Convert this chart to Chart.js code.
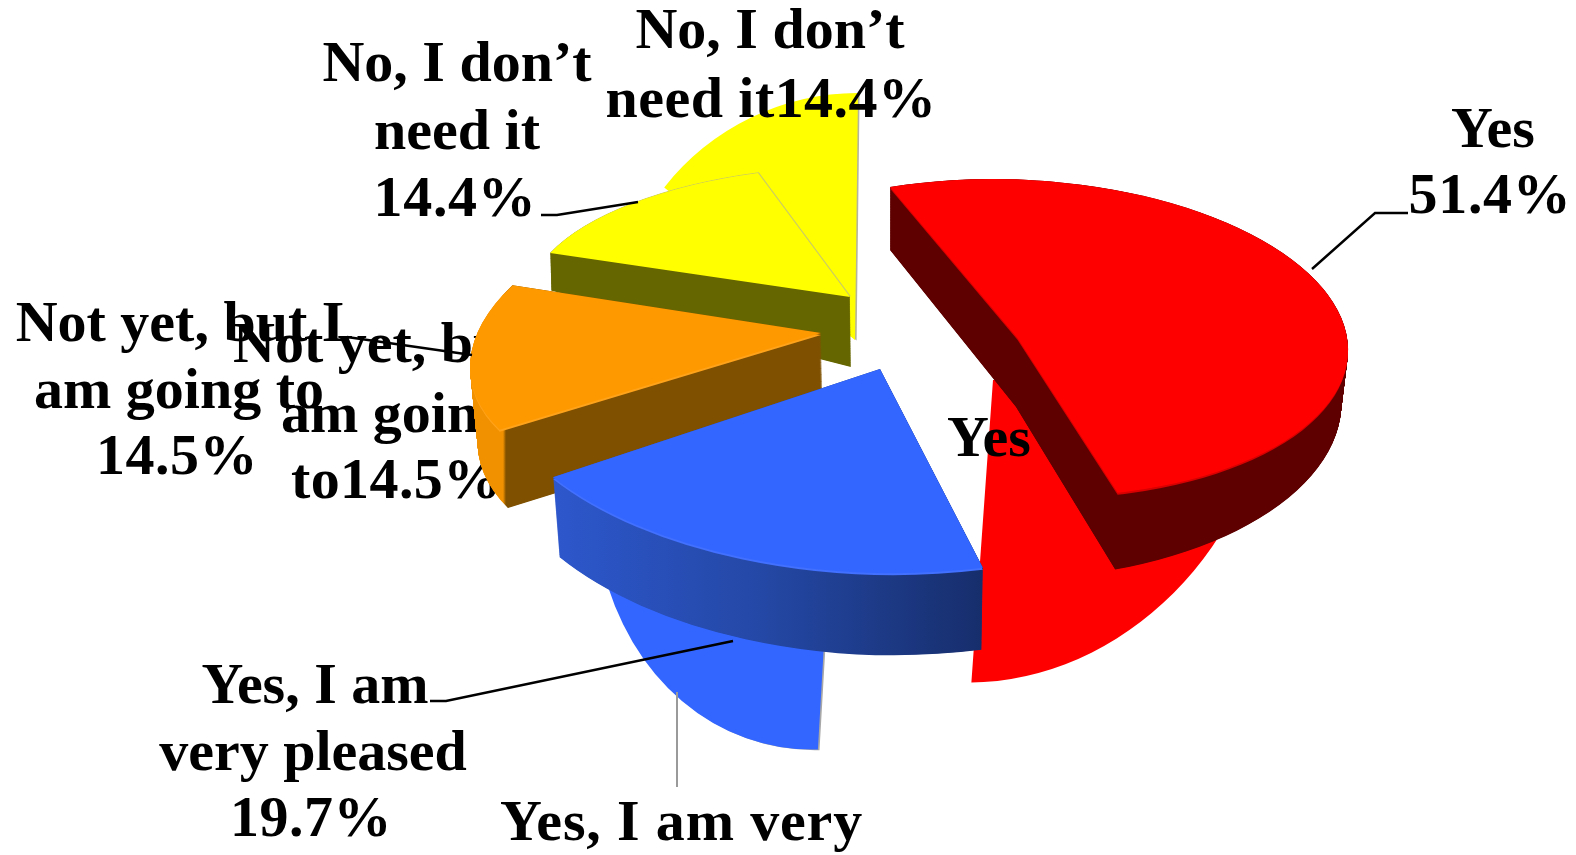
<!DOCTYPE html>
<html><head><meta charset="utf-8">
<script src="https://cdn.jsdelivr.net/npm/chart.js@4/dist/chart.umd.min.js"></script>
<style>
html,body{margin:0;padding:0;background:#fff;overflow:hidden}
#wrap{width:1576px;height:855px}
canvas{display:block;filter:blur(0.55px)}
</style></head><body>
<div id="wrap"><canvas id="c" width="1576" height="855"></canvas></div>
<script>
// ---- data ----
const categories = ['Yes', 'Yes, I am very pleased', 'Not yet, but I am going to', 'No, I don\u2019t need it'];
const shares = [51.4, 19.7, 14.5, 14.4];
const pct = shares.map(v => v.toFixed(1) + '%');

// ---- styles ----
const faceColors = ['#ff0000', '#3366ff', '#ff9900', '#ffff00'];
const bevelColors = ['#d80000', '#4270ff', '#ffa31a', null];
const edgeColors = [null, null, null, '#c9c96a'];
// side gradient stops: [screen x, colour]
const sideStops = [
  [[0, '#5f0000'], [1576, '#5f0000']],
  [[553, '#2d57cc'], [760, '#2448a6'], [983, '#172e6c']],
  [[503, '#f29100'], [506, '#7f5000'], [1576, '#7f5000']],
  [[0, '#666600'], [1576, '#666600']]
];
// projection of the unit pie onto the page, per slice: [a, b, c, d, e, f]
const topViews = [
  [305, -50, 127.5, 151, 1017.5, 338],
  [371, -63, 136, 194, 880, 369],
  [346, -61, 59, 155, 821, 333],
  [309, -41.5, 92, 124, 850, 297]
];
const bottomViews = [
  [300, -70, 126, 157, 1016, 407],
  [364, -64, 134, 198, 880, 447],
  [340, -61, 61, 160, 823, 410],
  [309, 0, 92, 124, 851, 367]
];
const backViews = [
  [280, -30, 3, 301, 993, 380],
  [240, -30, 5, 278, 834, 470],
  null,
  [245, 0, -3, 247, 855, 340]
];
const backClipTop = [380, 0, 0, 0];
const backEdge = [null, '#a8a8a8', null, '#b4b49c'];

const labelFont = 'bold 58px "Liberation Serif"';
// text, x, baseline, align, letter spacing
const backLabels = [
  ['No, I don\u2019t', 770, 48, 'center', 0],
  ['need it' + pct[3], 771, 117, 'center', 0.45],
  ['Not yet, but I', 233, 362, 'left', 0],
  ['am going', 281, 432, 'left', 0],
  ['to' + pct[2], 291, 498, 'left', 0.4],
  ['Yes', 947, 456, 'left', 0],
  ['Yes, I am very', 500, 840, 'left', 0.85]
];
const frontLabels = [
  ['Yes', 1493, 147, 'center', 0],
  [pct[0], 1490, 213, 'center', 0.7],
  ['No, I don\u2019t', 457, 81, 'center', 0],
  ['need it', 457, 149, 'center', 0],
  [pct[3], 455, 216, 'center', 0.7],
  ['Not yet, but I', 180, 341, 'center', 0],
  ['am going to', 179, 408, 'center', 0],
  [pct[2], 177, 474, 'center', 0.5],
  ['Yes, I am', 315, 703, 'center', 0],
  ['very pleased', 313, 770, 'center', 0],
  [pct[1], 311, 836, 'center', 0.5]
];
const leaders = [
  [[1312, 269], [1375, 213], [1408, 213]],
  [[541, 215], [557, 215], [638, 202]],
  [[347, 337], [472, 355]],
  [[430, 701], [446, 701], [733, 641]]
];
const greyLeader = [[677, 692], [677, 787]];

function arcWith(arc, color) {
  const p = Object.create(arc);
  p.options = {backgroundColor: color, borderColor: 'transparent', borderWidth: 0, borderAlign: 'center',
    borderRadius: 0, borderDash: [], borderDashOffset: 0, borderJoinStyle: 'round', offset: 0, spacing: 0, circular: true};
  return p;
}
function drawArc(ctx, arc, view, color, dx, dy) {
  const R = arc.outerRadius, k = [view[0] / R, view[1] / R, view[2] / R, view[3] / R];
  ctx.save();
  ctx.setTransform(k[0], k[1], k[2], k[3],
    view[4] + (dx || 0) - k[0] * arc.x - k[2] * arc.y,
    view[5] + (dy || 0) - k[1] * arc.x - k[3] * arc.y);
  arcWith(arc, color).draw(ctx);
  ctx.restore();
}
function mix(u, v, t) { return u.map((x, i) => x + (v[i] - x) * t); }
function polyline(ctx, pts, color, w) {
  ctx.beginPath();
  pts.forEach((p, i) => i ? ctx.lineTo(p[0], p[1]) : ctx.moveTo(p[0], p[1]));
  ctx.strokeStyle = color; ctx.lineWidth = w; ctx.stroke();
}
function texts(ctx, list) {
  ctx.font = labelFont; ctx.fillStyle = '#000'; ctx.textBaseline = 'alphabetic';
  list.forEach(t => {
    ctx.textAlign = t[3]; ctx.letterSpacing = t[4] + 'px';
    ctx.fillText(t[0], t[1], t[2]);
  });
  ctx.letterSpacing = '0px';
}

const pie3d = {
  id: 'pie3d',
  beforeDatasetsDraw(chart) {
    const ctx = chart.ctx, arcs = chart.getDatasetMeta(0).data;
    ctx.save();
    ctx.fillStyle = '#fff'; ctx.fillRect(0, 0, 1576, 855);
    // flat back image
    [0, 1, 3].forEach(i => {
      ctx.save();
      ctx.beginPath(); ctx.rect(0, backClipTop[i], 1576, 855); ctx.clip();
      if (backEdge[i]) drawArc(ctx, arcs[i], backViews[i], backEdge[i], 1.6, 0.6);
      drawArc(ctx, arcs[i], backViews[i], faceColors[i]);
      ctx.restore();
    });
    polyline(ctx, greyLeader, '#9a9a9a', 2);
    texts(ctx, backLabels);
    // raised slices, back to front
    [3, 2, 1, 0].forEach(i => {
      const off = document.createElement('canvas');
      off.width = 1576; off.height = 855;
      const o = off.getContext('2d');
      const N = 160;
      for (let s = N; s >= 0; s--) drawArc(o, arcs[i], mix(topViews[i], bottomViews[i], s / N), '#000');
      o.globalCompositeOperation = 'source-atop';
      const g = o.createLinearGradient(0, 0, 1576, 0);
      sideStops[i].forEach(st => g.addColorStop(st[0] / 1576, st[1]));
      o.fillStyle = g; o.fillRect(0, 0, 1576, 855);
      ctx.drawImage(off, 0, 0);
      if (bevelColors[i]) drawArc(ctx, arcs[i], mix(topViews[i], bottomViews[i], 0.025), bevelColors[i]);
      if (edgeColors[i]) { drawArc(ctx, arcs[i], topViews[i], edgeColors[i], 0.8, -0.8); }
      drawArc(ctx, arcs[i], topViews[i], faceColors[i]);
    });
    leaders.forEach(l => polyline(ctx, l, '#000', 2.4));
    texts(ctx, frontLabels);
    ctx.restore();
    return false;
  }
};

new Chart(document.getElementById('c'), {
  type: 'pie',
  data: {labels: categories, datasets: [{data: shares, backgroundColor: faceColors, borderWidth: 0}]},
  options: {
    responsive: false, animation: false,
    plugins: {legend: {display: false}, tooltip: {enabled: false}}
  },
  plugins: [pie3d]
});
</script>
</body></html>
